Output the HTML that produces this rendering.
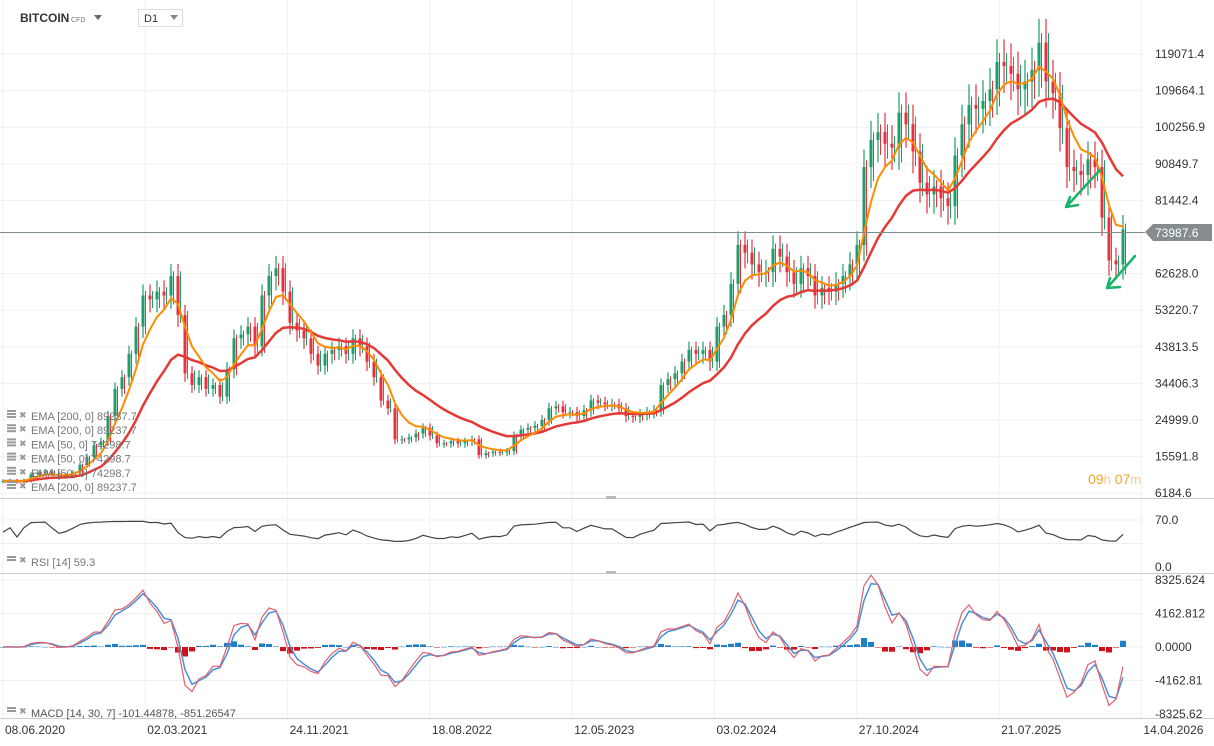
<!DOCTYPE html>
<html><head><meta charset="utf-8">
<style>
body{margin:0;background:#fff;font-family:"Liberation Sans",sans-serif;}
svg{display:block}
</style></head>
<body>
<svg id="c" width="1214" height="746" xmlns="http://www.w3.org/2000/svg"></svg>
<script>
// price closes in thousands USD, one per ~13 days
const closes = [9.3,9.4,9.2,9.5,11.0,11.5,11.8,11.3,10.5,10.8,11.5,13.5,15.5,18.5,19.5,26,33,36,42,49,57,56,58,57,62,52,37,34,36,33,34,31,38,46,47,49,44,57,62,64,58,50,48,46,42,39,42,43,44,42,46,44,40,36,30,28,20,20,20.5,21.5,23,21,19,19,19.5,19,19.5,20,16,16.5,16.8,16.7,17,21,22.5,23,23.5,25,28,28.5,27,27,26,27.5,30,29.5,29,29,28,26,25.8,26.5,27,27.5,34,35.5,37,40,43,42,43,40,49,52,60,70,68,65,63,63,69,67,63,60,64,62,57,59,58,60,62,65,70,90,97,99,96,95,104,101,94,86,83,85,82,80,93,101,106,105,107,110,117,116,114,110,112,115,122,112,109,100,90,89,88,92,90,77,66,65,74];
const priceTicks = [119071.4,109664.1,100256.9,90849.7,81442.4,72035.2,62628.0,53220.7,43813.5,34406.3,24999.0,15591.8,6184.6];
const dateLabels = ["08.06.2020","02.03.2021","24.11.2021","18.08.2022","12.05.2023","03.02.2024","27.10.2024","21.07.2025","14.04.2026"];
const rsiTicks = ["70.0","0.0"];
const macdTicks = ["8325.624","4162.812","0.0000","-4162.81","-8325.62"];
const lastPrice = 73987.6;

const NS="http://www.w3.org/2000/svg";
const svg=document.getElementById('c');
function mk(tag,attrs,parent){const e=document.createElementNS(NS,tag);for(const k in attrs)e.setAttribute(k,attrs[k]);(parent||svg).appendChild(e);return e;}
function txt(s,attrs,parent){const e=mk('text',attrs,parent);e.textContent=s;return e;}

const X0=3, DX=7, PLOT_R=1143;
const xAt=i=>X0+i*DX;
const yP=p=>54+(119071.4-p)/9407.3*36.6;
const yR=v=>567-v/70*47;
const yM=v=>647-v/4162.812*33.5;

const grid=mk('g',{});


priceTicks.forEach(t=>mk('line',{x1:0,x2:PLOT_R,y1:yP(t),y2:yP(t),stroke:'#f0f0f0'},grid));
dateLabels.forEach((d,i)=>{const x=3+i*142.3;mk('line',{x1:x,x2:x,y1:0,y2:718,stroke:'#f0f0f0'},grid);});
[70,35].forEach(v=>mk('line',{x1:0,x2:PLOT_R,y1:yR(v),y2:yR(v),stroke:'#f0f0f0'},grid));
macdTicks.forEach(v=>mk('line',{x1:0,x2:PLOT_R,y1:yM(+v),y2:yM(+v),stroke:'#f0f0f0'},grid));

mk('line',{x1:0,x2:1214,y1:498.5,y2:498.5,stroke:'#ccc'});
mk('line',{x1:0,x2:1214,y1:573.5,y2:573.5,stroke:'#ccc'});
mk('line',{x1:0,x2:1214,y1:718.5,y2:718.5,stroke:'#ccc'});
mk('rect',{x:606,y:496,width:10,height:3,fill:'#bbb'});
mk('rect',{x:606,y:571,width:10,height:3,fill:'#bbb'});

const cg=mk('g',{});


closes.forEach((c,i)=>{
  const o=i?closes[i-1]:c;
  const up=c>=o;
  const col=up?'#1d9e6a':'#e8303f';
  const hi=Math.max(o,c)*1.05, lo=Math.min(o,c)*0.94;
  const x=xAt(i);
  mk('line',{x1:x,x2:x,y1:yP(hi*1000),y2:yP(lo*1000),stroke:col,'stroke-width':1.2},cg);
  mk('line',{x1:x+2.5,x2:x+2.5,y1:yP(Math.max(o,c)*1020),y2:yP(Math.min(o,c)*960),stroke:up?'#e8303f':'#1d9e6a','stroke-width':1},cg);
  const yt=yP(Math.max(o,c)*1000), yb=yP(Math.min(o,c)*1000);
  const r=mk('rect',{x:x-1.5,y:yt,width:3,height:Math.max(1,yb-yt),fill:col},cg);
  
  
});

function ema(arr,n){const a=2/(n+1);const out=[];arr.forEach((v,i)=>out.push(i?out[i-1]+a*(v-out[i-1]):v));return out;}
const e50=ema(closes,5), e200=ema(closes,16);
function path(vals,fy){return vals.map((v,i)=>(i?'L':'M')+xAt(i).toFixed(1)+' '+fy(v).toFixed(1)).join(' ');}
const p200=mk('path',{d:path(e200,v=>yP(v*1000)),fill:'none',stroke:'#e53935','stroke-width':2.5});


const p50=mk('path',{d:path(e50,v=>yP(v*1000)),fill:'none',stroke:'#ff8c00','stroke-width':2});



mk('line',{x1:0,x2:1145,y1:232.5,y2:232.5,stroke:'#7f8c8d','stroke-width':1});
const lp=mk('g',{});


mk('path',{d:'M1145 232 L1153 224 L1212 224 L1212 241 L1153 241 Z',fill:'#858c8f'},lp);
txt(lastPrice.toFixed(1),{x:1155,y:237,'font-size':12,fill:'#fff'},lp);

const pa=mk('g',{});


priceTicks.forEach(t=>{ if(Math.abs(yP(t)-232)<8) return; txt(t.toFixed(1),{x:1155,y:yP(t)+4,'font-size':12,fill:'#333'},pa);});

const ar=mk('g',{stroke:'#19b36b','stroke-width':2.5,fill:'none','stroke-linecap':'round'});


mk('path',{d:'M1100 170 L1066 207 M1066 207 L1070 197 M1066 207 L1078 205'},ar);
mk('path',{d:'M1135 256 L1107 288 M1107 288 L1110 278 M1107 288 L1120 287'},ar);

function rsi(arr,n){const out=[50];let g=0,l=0;for(let i=1;i<arr.length;i++){const d=arr[i]-arr[i-1];g=(g*(n-1)+Math.max(d,0))/n;l=(l*(n-1)+Math.max(-d,0))/n;out.push(l===0?70:100-100/(1+g/l));}return out;}
const rsiVals=rsi(closes,4).map(v=>Math.max(20,Math.min(75,36+v*0.32)));
const rp=mk('path',{d:path(rsiVals,yR),fill:'none',stroke:'#444','stroke-width':1.2});


rsiTicks.forEach(t=>txt(t,{x:1155,y:yR(+t)+4,'font-size':12,fill:'#333'}));

const ef=ema(closes,2), es=ema(closes,5);
const macd=ef.map((v,i)=>(v-es[i])*800);
const sig=ema(macd,2);
const hg=mk('g',{});


macd.forEach((m,i)=>{const h=(m-sig[i])*0.6;const y0=yM(0),y1=yM(h);
  const r=mk('rect',{x:xAt(i)-3,y:Math.min(y0,y1),width:6,height:Math.max(0.5,Math.abs(y1-y0)),fill:h>=0?'#1e7fc8':'#d0121b'},hg);
  
  });
const ms=mk('path',{d:path(sig,yM),fill:'none',stroke:'#4a90d9','stroke-width':1.5});


const ml=mk('path',{d:path(macd,yM),fill:'none',stroke:'#e0606a','stroke-width':1.2});


macdTicks.forEach(t=>txt(t,{x:1155,y:yM(+t)+4,'font-size':12,fill:'#333'}));

const da=mk('g',{});


dateLabels.forEach((d,i)=>txt(d,{x:3+i*142.3+2,y:734,'font-size':12,fill:'#333'},da));

const lg=mk('g',{'font-size':11,fill:'#777'});


const legendRows=["EMA  [200,  0]  89237.7","EMA  [200,  0]  89237.7","EMA  [50,  0]  74298.7","EMA  [50,  0]  74298.7","EMA  [50,  0]  74298.7","EMA  [200,  0]  89237.7"];
legendRows.forEach((s,i)=>{const y=418+i*14.2;
  mk('rect',{x:7,y:y-8,width:9,height:2,fill:'#999'},lg);mk('rect',{x:7,y:y-5,width:9,height:2,fill:'#999'},lg);mk('rect',{x:7,y:y-2,width:9,height:2,fill:'#999'},lg);
  txt('✖',{x:19,y:y,'font-size':9,fill:'#999'},lg);
  txt(s,{x:31,y:y+2},lg);});
const rl=mk('g',{'font-size':11,fill:'#777'});


mk('rect',{x:7,y:556,width:9,height:2,fill:'#999'},rl);mk('rect',{x:7,y:559,width:9,height:2,fill:'#999'},rl);
txt('✖',{x:19,y:563,'font-size':9,fill:'#999'},rl);txt('RSI  [14]  59.3',{x:31,y:566},rl);
const ll=mk('g',{'font-size':11,fill:'#555'});


mk('rect',{x:7,y:707,width:9,height:2,fill:'#999'},ll);mk('rect',{x:7,y:710,width:9,height:2,fill:'#999'},ll);
txt('✖',{x:19,y:714,'font-size':9,fill:'#999'},ll);txt('MACD  [14,  30,  7]  -101.44878,  -851.26547',{x:31,y:717},ll);

const cd=mk('text',{x:1088,y:484,'font-size':14,fill:'#f5a623'});


cd.innerHTML='09<tspan font-size="13" fill="#f8c98a">h</tspan> 07<tspan font-size="13" fill="#f8c98a">m</tspan>';

const hd=mk('g',{});


txt('BITCOIN',{x:20,y:22,'font-size':12,'font-weight':'bold',fill:'#333'},hd);
txt('CFD',{x:71,y:22,'font-size':7,fill:'#777'},hd);
mk('path',{d:'M94 15 L102 15 L98 20 Z',fill:'#666'},hd);
const tf=mk('g',{});


mk('rect',{x:138.5,y:9.5,width:44,height:17,fill:'#fff',stroke:'#ddd'},tf);
txt('D1',{x:144,y:22,'font-size':11,fill:'#333'},tf);
mk('path',{d:'M170 15 L178 15 L174 20 Z',fill:'#888'},tf);
</script>
</body></html>
